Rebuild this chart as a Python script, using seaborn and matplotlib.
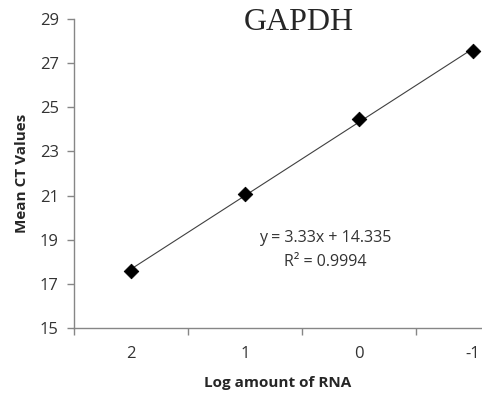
import matplotlib
matplotlib.use("Agg")
import matplotlib.pyplot as plt
import numpy as np
import seaborn as sns

# data
log_rna = ["2", "1", "0", "-1"]
mean_ct = [17.6, 21.05, 24.45, 27.55]
slope = 3.33
intercept = 14.335
r_squared = 0.9994

sns.set_style("white")
plt.rcParams['font.family'] = ['Open Sans', 'DejaVu Sans']

fig = plt.figure(figsize=(4.82, 3.97), dpi=100)
ax = fig.add_axes([0.1535, 0.174, 0.8465, 0.778])

pos = np.arange(len(log_rna))
# Excel-style linear trendline, x runs 1..n
fit_y = slope * (pos + 1) + intercept
ax.plot(pos, fit_y, color='#404040', linewidth=0.8, zorder=2)
sns.scatterplot(x=pos, y=mean_ct, marker='D', color='black', s=55,
                edgecolor='black', ax=ax, zorder=3)

ax.set_ylim(15, 29)
ax.set_yticks(np.arange(15, 30, 2))
ax.set_xlim(-0.5, 3.08)
ax.set_xticks(pos)
ax.set_xticklabels(log_rna)
ax.set_xticks([-0.5, 0.5, 1.5, 2.5], minor=True)
ax.tick_params(axis='x', which='major', length=0, pad=13, labelsize=12, colors='#333333')
ax.tick_params(axis='x', which='minor', length=5, width=1, color='#868686', direction='out', bottom=True)
ax.tick_params(axis='y', length=5, width=1, color='#868686', direction='out', left=True,
               labelsize=12, labelcolor='#333333', pad=6)

for side in ['top', 'right']:
    ax.spines[side].set_visible(False)
for side in ['left', 'bottom']:
    ax.spines[side].set_color('#868686')
    ax.spines[side].set_linewidth(1)

ax.set_xlabel('Log amount of RNA', fontsize=11, fontweight='bold', labelpad=10)
ax.set_ylabel('Mean CT Values', fontsize=11, fontweight='bold', labelpad=8)

fig.text(299 / 482, 1 - 22 / 397, 'GAPDH', fontsize=23, family='Liberation Serif',
         ha='center', va='center')
fig.text(325 / 482, 1 - 238 / 397, 'y = 3.33x + 14.335', fontsize=11.5,
         ha='center', va='center', color='#333333')
fig.text(325 / 482, 1 - 262 / 397, 'R² = %.4f' % r_squared, fontsize=11.5,
         ha='center', va='center', color='#333333')

fig.savefig('out.png', dpi=100)
